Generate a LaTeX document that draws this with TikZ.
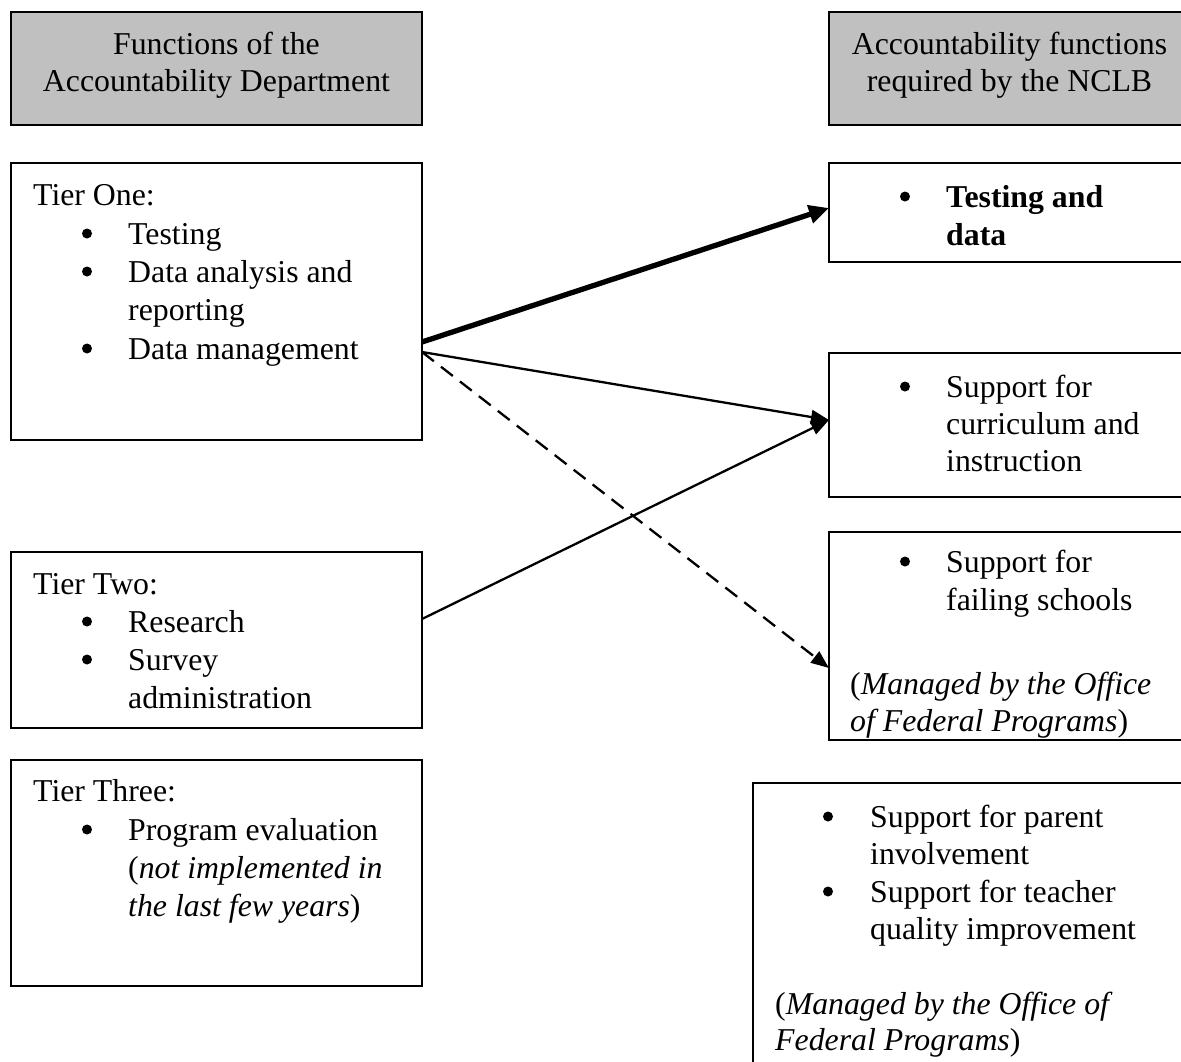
\documentclass[tikz,border=0pt]{standalone}
\usepackage{fontspec}
\setmainfont{Liberation Serif}
\usetikzlibrary{arrows.meta,calc}
\definecolor{headgray}{HTML}{C0C0C0}
% one line of text placed at its baseline
\newcommand\putline[4]{\node[txt] (#1) at (#2,#3) {#4};}
% a round list bullet centred on x, raised above the given baseline
\newcommand\putbul[3]{\node[bul] (#1) at (#2,#3-10.5) {};}
\begin{document}
\begin{tikzpicture}[x=1pt,y=-1pt,
  box/.style={draw, line width=1.8pt, rectangle, inner sep=0pt, outer sep=0pt, anchor=north west},
  headbox/.style={box, fill=headgray},
  txt/.style={anchor=base west, inner sep=0pt, font=\fontsize{31.8}{38}\selectfont},
  ctxt/.style={txt, anchor=base},
  bul/.style={circle, fill=black, inner sep=0pt, minimum size=10pt},
  link/.style={line width=2.3pt, -{Triangle[length=18pt,width=14pt]}},
  mainlink/.style={line width=5.3pt, -{Triangle[length=20pt,width=18pt]}},
  weaklink/.style={link, dash pattern=on 15pt off 9pt}
]
\useasboundingbox (0,0) rectangle (1181,1061);

% ---- headers ----
\node[headbox, minimum width=411pt, minimum height=113pt] (hleft) at (11,12) {};
\node[headbox, minimum width=362pt, minimum height=113pt] (hright) at (829,12) {};
\node[ctxt] (hl1) at (216.5,54) {Functions of the};
\node[ctxt] (hl2) at (216.5,91) {Accountability Department};
\node[ctxt] (hr1) at (1009.5,54) {Accountability functions};
\node[ctxt] (hr2) at (1009.5,91) {required by the NCLB};

% ---- left column: tiers ----
\node[box, minimum width=411pt, minimum height=277pt] (tierone) at (11,163) {};
\putline{t1h}{33}{205}{Tier One:}
\putbul{t1b1}{87}{244}\putline{t1l1}{128}{244}{Testing}
\putbul{t1b2}{87}{282}\putline{t1l2}{128}{282}{Data analysis and}
\putline{t1l3}{128}{320}{reporting}
\putbul{t1b3}{87}{359}\putline{t1l4}{128}{359}{Data management}

\node[box, minimum width=411pt, minimum height=176pt] (tiertwo) at (11,552) {};
\putline{t2h}{33}{594}{Tier Two:}
\putbul{t2b1}{87}{632}\putline{t2l1}{128}{632}{Research}
\putbul{t2b2}{87}{670}\putline{t2l2}{128}{670}{Survey}
\putline{t2l3}{128}{708}{administration}

\node[box, minimum width=411pt, minimum height=226pt] (tierthree) at (11,760) {};
\putline{t3h}{33}{801}{Tier Three:}
\putbul{t3b1}{87}{840}\putline{t3l1}{128}{840}{Program evaluation}
\putline{t3l2}{128}{878}{(\textit{not implemented in}}
\putline{t3l3}{128}{916}{\textit{the last few years})}

% ---- right column: NCLB functions ----
\node[box, minimum width=362pt, minimum height=99pt] (rtest) at (829,163) {};
\putbul{r1b1}{905}{207}\putline{r1l1}{946}{207}{\textbf{Testing and}}
\putline{r1l2}{946}{245}{\textbf{data}}

\node[box, minimum width=362pt, minimum height=144pt] (rcurr) at (829,353) {};
\putbul{r2b1}{905}{397}\putline{r2l1}{946}{397}{Support for}
\putline{r2l2}{946}{434}{curriculum and}
\putline{r2l3}{946}{471}{instruction}

\node[box, minimum width=362pt, minimum height=208pt] (rfail) at (829,532) {};
\putbul{r3b1}{905}{572}\putline{r3l1}{946}{572}{Support for}
\putline{r3l2}{946}{610}{failing schools}
\putline{r3l3}{850}{694}{(\textit{Managed by the Office}}
\putline{r3l4}{850}{731}{\textit{of Federal Programs})}

\node[box, minimum width=440pt, minimum height=300pt] (rother) at (753,783) {};
\putbul{r4b1}{828}{827}\putline{r4l1}{870}{827}{Support for parent}
\putline{r4l2}{870}{864}{involvement}
\putbul{r4b2}{828}{902}\putline{r4l3}{870}{902}{Support for teacher}
\putline{r4l4}{870}{939}{quality improvement}
\putline{r4l5}{775}{1014}{(\textit{Managed by the Office of}}
\putline{r4l6}{775}{1050}{\textit{Federal Programs})}

% ---- connectors ----
\coordinate (t1main) at ($(tierone.north east)+(0,179)$);
\coordinate (t1out)  at ($(tierone.north east)+(0,189)$);
\coordinate (t2out)  at ($(tiertwo.north east)+(0,67)$);
\coordinate (testin) at ($(rtest.north west)+(0,45)$);
\coordinate (currin) at ($(rcurr.north west)+(0,67)$);
\coordinate (failin) at ($(rfail.north west)+(0,136)$);

\draw[mainlink] (t1main) -- (testin);
\draw[link] (t1out) -- (currin);
\draw[weaklink] (t1out) -- (failin);
\draw[link] (t2out) -- (currin);
\end{tikzpicture}
\end{document}
